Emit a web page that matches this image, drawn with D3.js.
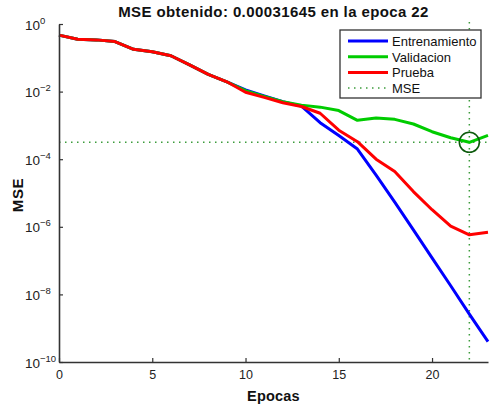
<!DOCTYPE html>
<html>
<head>
<meta charset="utf-8">
<script src="https://cdn.jsdelivr.net/npm/d3@7"></script>
<style>
  body { margin: 0; background: #fff; }
  text { font-family: "Liberation Sans", Arial, sans-serif; }
</style>
</head>
<body>
<div id="chart"></div>
<script>
"use strict";

// data *********************************************************
var epochs = [0, 1, 2, 3, 4, 5, 6, 7, 8, 9, 10, 11, 12, 13, 14, 15, 16, 17, 18, 19, 20, 21, 22, 23];

var entrenamiento = [0.468, 0.355, 0.339, 0.302, 0.178, 0.151, 0.115, 0.0617, 0.0324, 0.0195,
  0.0112, 0.00741, 0.00501, 0.00372, 0.0012, 5.0e-4, 2.0e-4, 3.4e-5, 5.4e-6, 8.1e-7,
  1.2e-7, 1.8e-8, 2.6e-9, 4.0e-10];

var validacion = [0.468, 0.355, 0.339, 0.302, 0.178, 0.151, 0.115, 0.0617, 0.0324, 0.0195,
  0.0107, 0.00724, 0.00501, 0.00398, 0.00347, 0.00275, 0.00141, 0.00166, 0.00151, 0.0011,
  6.5e-4, 4.3e-4, 3.1645e-4, 5.1e-4];

var prueba = [0.468, 0.355, 0.339, 0.302, 0.178, 0.151, 0.115, 0.0617, 0.0324, 0.0195,
  0.00955, 0.00676, 0.00468, 0.00363, 0.00229, 7.2e-4, 3.3e-4, 1.0e-4, 4.3e-5, 1.1e-5,
  3.2e-6, 1.05e-6, 5.8e-7, 6.9e-7];

var bestEpoch = 22;
var bestMSE = 0.00031645;

var xTicks = [0, 5, 10, 15, 20];
var yTickExp = [0, -2, -4, -6, -8, -10];

var seriesNames = ["Entrenamiento", "Validacion", "Prueba", "MSE"];

//variables *****************************************************
var width = 500;
var height = 409;
var plotLeft = 59, plotRight = 488, plotTop = 24, plotBottom = 362;
var axisColor = "#333";
var dotColor = "#3c9c3c";

var x = d3.scaleLinear().domain([0, 23]).range([plotLeft, plotRight]);
var y = d3.scaleLog().domain([1e-10, 1]).range([plotBottom, plotTop]);

var svg = d3.select("#chart")
  .append("svg")
  .attr("width", width)
  .attr("height", height);

// best point guide lines
svg.append("line")
  .attr("x1", x(0)).attr("x2", x(23))
  .attr("y1", y(bestMSE)).attr("y2", y(bestMSE))
  .attr("stroke", dotColor).attr("stroke-width", 1.5)
  .attr("stroke-dasharray", "1.5,4.5");

svg.append("line")
  .attr("x1", x(bestEpoch)).attr("x2", x(bestEpoch))
  .attr("y1", plotTop - 2).attr("y2", plotBottom)
  .attr("stroke", dotColor).attr("stroke-width", 1.5)
  .attr("stroke-dasharray", "1.5,4.5");

// curves
var line = d3.line()
  .x(function(d, i) { return x(epochs[i]); })
  .y(function(d) { return y(d); });

var series = [
  { name: "Entrenamiento", values: entrenamiento, color: "#0000ff" },
  { name: "Validacion", values: validacion, color: "#00cc00" },
  { name: "Prueba", values: prueba, color: "#ff0000" }
];

svg.selectAll(".curve")
  .data(series)
  .enter()
  .append("path")
  .attr("class", "curve")
  .attr("d", function(d) { return line(d.values); })
  .attr("fill", "none")
  .attr("stroke", function(d) { return d.color; })
  .attr("stroke-width", 3)
  .attr("stroke-linejoin", "round");

// circle at best validation
svg.append("circle")
  .attr("cx", x(bestEpoch))
  .attr("cy", y(bestMSE))
  .attr("r", 10)
  .attr("fill", "none")
  .attr("stroke", "#0c5a0c")
  .attr("stroke-width", 1.6);

// axes
var xAxis = d3.axisBottom(x)
  .tickValues(xTicks)
  .tickSizeInner(-4)
  .tickSizeOuter(0)
  .tickPadding(8);

var gx = svg.append("g")
  .attr("transform", "translate(0," + plotBottom + ")")
  .call(xAxis);

var yAxis = d3.axisLeft(y)
  .tickValues(yTickExp.map(function(e) { return Math.pow(10, e); }))
  .tickSizeInner(-4)
  .tickSizeOuter(0)
  .tickFormat("");

var gy = svg.append("g")
  .attr("transform", "translate(" + plotLeft + ",0)")
  .call(yAxis);

[gx, gy].forEach(function(g) {
  g.select(".domain").attr("stroke", axisColor).attr("stroke-width", 1.6);
  g.selectAll(".tick line").attr("stroke", axisColor).attr("stroke-width", 1.2);
  g.selectAll("text")
    .attr("fill", "#222")
    .style("font-family", "'Liberation Sans', Arial, sans-serif")
    .style("font-size", "12.5px");
});

// y labels as 10 with superscript
gy.selectAll(".tick").each(function(d, i) {
  var t = d3.select(this);
  var e = yTickExp[i];
  t.append("text")
    .attr("x", -19).attr("y", 5)
    .attr("text-anchor", "end")
    .attr("fill", "#222")
    .style("font-size", "13.5px")
    .text("10");
  t.append("text")
    .attr("x", -19).attr("y", -1)
    .attr("text-anchor", "start")
    .attr("fill", "#222")
    .style("font-size", "9.5px")
    .text(e === 0 ? "0" : "\u2212" + (-e));
});

// title and labels
svg.append("text")
  .attr("x", (plotLeft + plotRight) / 2)
  .attr("y", 17)
  .attr("text-anchor", "middle")
  .style("font-weight", "bold")
  .style("font-size", "15px")
  .style("letter-spacing", "0.4px")
  .attr("fill", "#111")
  .text("MSE obtenido: " + bestMSE + " en la epoca " + bestEpoch);

svg.append("text")
  .attr("x", (plotLeft + plotRight) / 2)
  .attr("y", 401)
  .attr("text-anchor", "middle")
  .style("font-weight", "bold")
  .style("font-size", "14.5px")
  .style("letter-spacing", "0.2px")
  .attr("fill", "#111")
  .text("Epocas");

svg.append("text")
  .attr("transform", "translate(23," + ((plotTop + plotBottom) / 2 + 2) + ") rotate(-90)")
  .attr("text-anchor", "middle")
  .style("font-weight", "bold")
  .style("font-size", "15px")
  .style("letter-spacing", "0.6px")
  .attr("fill", "#111")
  .text("MSE");

//legend related ************************************************
var legend = svg.append("g").attr("transform", "translate(340,30)");

legend.append("rect")
  .attr("width", 141)
  .attr("height", 68)
  .attr("fill", "#fff")
  .attr("stroke", axisColor)
  .attr("stroke-width", 1.3);

var legendColors = ["#0000ff", "#00cc00", "#ff0000", dotColor];

var item = legend.selectAll(".legend")
  .data(seriesNames)
  .enter()
  .append("g")
  .attr("class", "legend")
  .attr("transform", function(d, i) { return "translate(0," + (11 + i * 15.7) + ")"; });

item.append("line")
  .attr("x1", 8).attr("x2", 48)
  .attr("stroke", function(d, i) { return legendColors[i]; })
  .attr("stroke-width", function(d, i) { return i === 3 ? 1.5 : 3; })
  .attr("stroke-dasharray", function(d, i) { return i === 3 ? "1.5,4.5" : null; });

item.append("text")
  .attr("x", 52)
  .attr("y", 5)
  .style("font-size", "13px")
  .attr("fill", "#111")
  .text(function(d) { return d; });
</script>
</body>
</html>
